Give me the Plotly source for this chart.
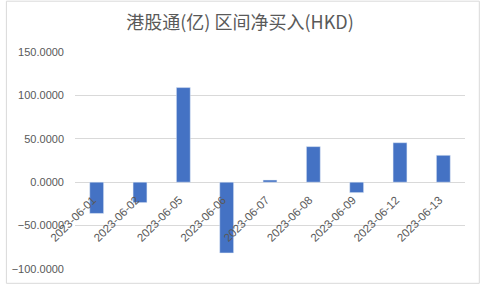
import plotly.graph_objects as go

dates = ["2023-06-01", "2023-06-02", "2023-06-05", "2023-06-06", "2023-06-07",
         "2023-06-08", "2023-06-09", "2023-06-12", "2023-06-13"]
net_buy = [-36.0, -23.5, 109.0, -81.5, 2.5, 41.0, -12.0, 45.5, 31.0]
title_text = "港股通(亿) 区间净买入(HKD)"
y_ticks = [-100, -50, 0, 50, 100, 150]

W, H = 480, 287
ml, mr, mt, mb = 70, 15, 52, 15
pw, ph = W - ml - mr, H - mt - mb
ymin, ymax = -100, 150

fig = go.Figure()
fig.add_trace(go.Bar(x=dates, y=net_buy, marker_color="#4472C4", width=0.32))

gray = "#595959"
fig.update_layout(
    width=W, height=H,
    margin=dict(l=ml, r=mr, t=mt, b=mb),
    paper_bgcolor="white", plot_bgcolor="white",
    showlegend=False,
    font=dict(family="Liberation Sans, Noto Sans CJK SC", color=gray, size=11),
    title=dict(text=title_text, x=0.5, xanchor="center", xref="container",
               y=1 - 23 / H, yanchor="middle", yref="container",
               font=dict(family="Noto Sans CJK SC", size=18, color=gray)),
    xaxis=dict(type="category", anchor="free", position=(0 - ymin) / (ymax - ymin),
               tickangle=-45, showgrid=False, showline=False, ticks="",
               ticklabelstandoff=8, ticklabelshift=-4,
               tickfont=dict(size=11.5, color=gray)),
    yaxis=dict(range=[ymin, ymax], tickvals=y_ticks, tickformat=".4f",
               showgrid=True, gridcolor="#D9D9D9", gridwidth=1,
               zeroline=True, zerolinecolor="#D9D9D9", zerolinewidth=1,
               showline=False, ticks="", ticklabelstandoff=10,
               tickfont=dict(size=11, color=gray)),
)

fig.add_shape(type="rect", xref="paper", yref="paper",
              x0=(0.5 - ml) / pw, x1=(W - 0.5 - ml) / pw,
              y0=(H - mb - (H - 0.5)) / ph, y1=(H - mb - 0.5) / ph,
              line=dict(color="#D9D9D9", width=1), fillcolor="rgba(0,0,0,0)",
              layer="below")

fig.write_html("out.html")
